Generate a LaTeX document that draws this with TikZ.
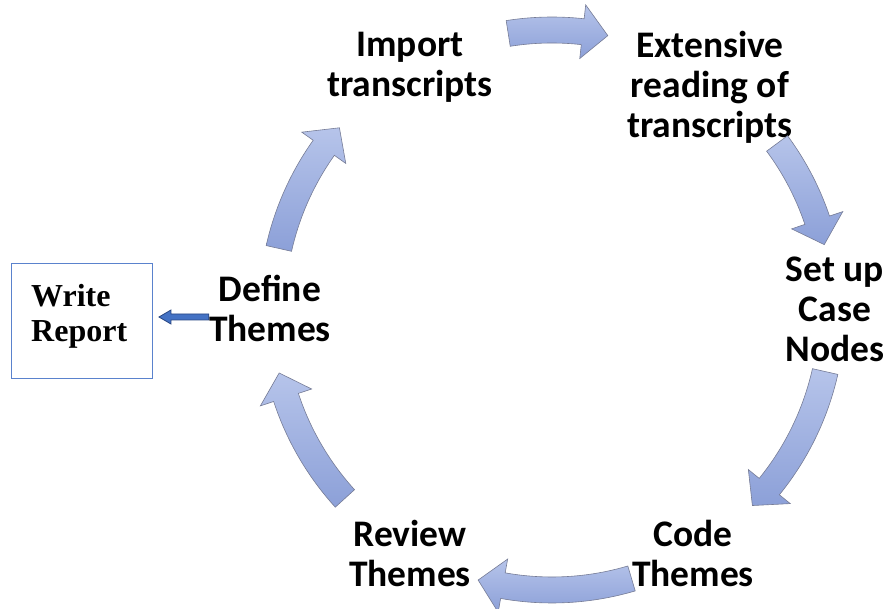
\documentclass[tikz,border=0pt]{standalone}
\usepackage{fontspec}
\setmainfont{Carlito}
\newfontfamily\reportfont{Liberation Serif}
\usetikzlibrary{calc}

\definecolor{arrowtop}{RGB}{182,196,234}
\definecolor{arrowbot}{RGB}{140,160,216}
\definecolor{arrowline}{RGB}{118,124,150}
\definecolor{boxblue}{RGB}{90,130,205}
\definecolor{wrfill}{RGB}{68,114,196}
\definecolor{wrline}{RGB}{40,70,130}

% curved block arrow on the ring: #1 = tail angle, #2 = tip angle
\newcommand\ringarrow[2]{%
  \pgfmathsetmacro\headbase{#2+5.2}%
  \path[cyclearrow] (#1:293) arc[start angle=#1, end angle=\headbase, radius=293]
    -- (\headbase:307) -- (#2:280) -- (\headbase:253) -- (\headbase:267)
    arc[start angle=\headbase, end angle=#1, radius=267] -- cycle;}

\begin{document}
\begin{tikzpicture}[x=1pt,y=1pt,
  stagelabel/.style={font=\fontsize{37.5}{40}\selectfont\bfseries, align=center, inner sep=0pt},
  cyclearrow/.style={top color=arrowtop, bottom color=arrowbot, draw=arrowline,
    line width=0.6pt, line join=miter},
  reportbox/.style={draw=boxblue, line width=0.9pt, minimum width=141pt,
    minimum height=115pt, align=left, inner sep=0pt,
    font=\reportfont\fontsize{32}{35}\selectfont\bfseries},
  wrarrow/.style={fill=wrfill, draw=wrline, line width=0.8pt, line join=miter}
]
\useasboundingbox (0,0) rectangle (886,609);

% stages of the cycle
\node[stagelabel] (import)    at (410,542) {Import\\transcripts};
\node[stagelabel] (extensive) at (710,522) {Extensive\\reading of\\transcripts};
\node[stagelabel] (setup)     at (835,300) {Set up\\Case\\Nodes};
\node[stagelabel] (code)      at (693,56)  {Code\\Themes};
\node[stagelabel] (review)    at (410,56)  {Review\\Themes};
\node[stagelabel] (define)    at (270,301) {Define\\Themes};

% final output
\node[reportbox] (report) at (82,288.5) {};
\node[font=\reportfont\fontsize{32}{35}\selectfont\bfseries, align=left, inner sep=0pt,
  anchor=west] (reporttext) at (31,293) {Write\\Report};

% ring of arrows between the stages
\begin{scope}[shift={(552,299)}]
  \ringarrow{99}{78.5}
  \ringarrow{36.5}{13.5}
  \ringarrow{-12.7}{-44.3}
  \ringarrow{-73.5}{-105.3}
  \ringarrow{-137.7}{-167}
  \ringarrow{167.3}{139.4}
\end{scope}

% block arrow from the last stage to the report
\coordinate (wtail) at (define.west |- 0,292);
\coordinate (wtip) at ([xshift=6pt]report.east |- 0,292);
\path[wrarrow] ($(wtail)+(0,3)$) -- ($(wtip)+(12,3)$) -- ($(wtip)+(12,7)$)
  -- (wtip) -- ($(wtip)+(12,-7)$) -- ($(wtip)+(12,-3)$) -- ($(wtail)+(0,-3)$) -- cycle;
\end{tikzpicture}
\end{document}
